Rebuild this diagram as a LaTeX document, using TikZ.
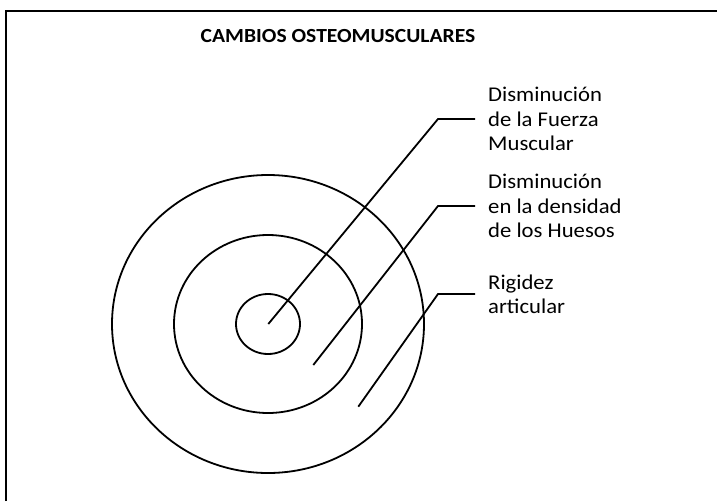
\documentclass[tikz,border=0pt]{standalone}
\usepackage{fontspec}
\setmainfont{Carlito}[FakeStretch=1.08]
\tikzset{
	ring/.style={line width=1.8pt},
	leader/.style={line width=1.8pt},
	rotulo/.style={anchor=west, align=left, inner xsep=13pt, inner ysep=0pt, font=\fontsize{21}{24.4}\selectfont}
}
\begin{document}
\begin{tikzpicture}[x=1pt,y=-1pt]
	\useasboundingbox (0,0) rectangle (717,501);
	\draw[line width=2.5pt] (6,501) -- (6,11) -- (717,11);
	\node (titulo) at (338,36) {\fontsize{20}{22}\selectfont\bfseries CAMBIOS OSTEOMUSCULARES};
	% anillos
	\draw[ring] (268,324) ellipse [x radius=156, y radius=149];
	\draw[ring] (268,324) ellipse [x radius=94, y radius=89];
	\draw[ring] (268,324) ellipse [x radius=32, y radius=30];
	\coordinate (centro) at (268.3,324);
	\coordinate (medio) at (313.3,365);
	\coordinate (externo) at (358.3,406.7);
	% rotulos
	\node[rotulo] (fuerza) at (475,119) {Disminución\\de la Fuerza\\Muscular};
	\node[rotulo] (huesos) at (475,206) {Disminución\\en la densidad\\de los Huesos};
	\node[rotulo] (rigidez) at (475,294) {Rigidez\\articular};
	\draw[leader] (centro) -- ([xshift=-37pt]fuerza.west) -- (fuerza.west);
	\draw[leader] (medio) -- ([xshift=-37pt]huesos.west) -- (huesos.west);
	\draw[leader] (externo) -- ([xshift=-37pt]rigidez.west) -- (rigidez.west);
\end{tikzpicture}
\end{document}
